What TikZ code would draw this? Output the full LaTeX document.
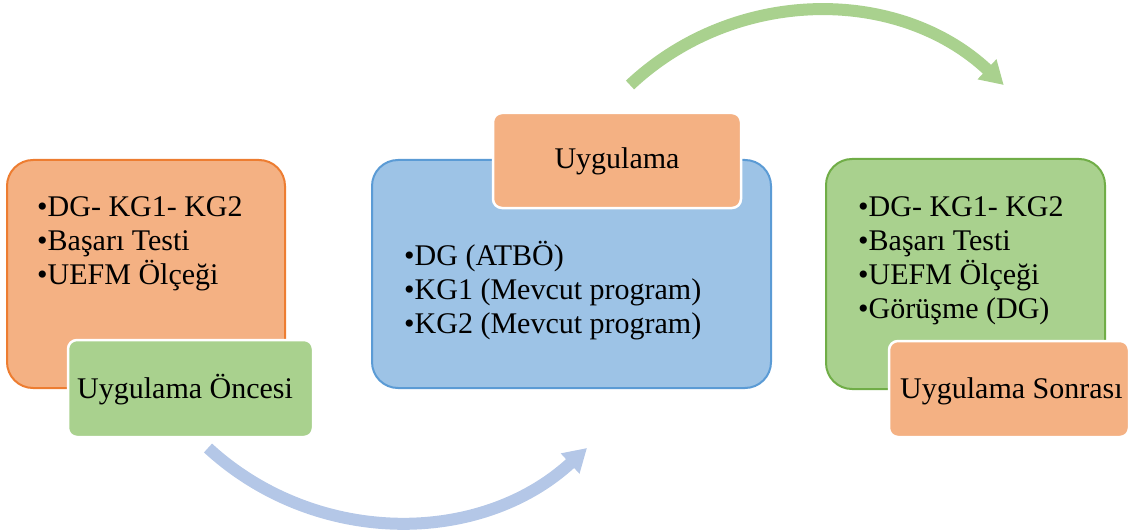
\documentclass[tikz,border=0pt]{standalone}
\usepackage{fontspec}
\setmainfont{Liberation Serif}
\usetikzlibrary{arrows.meta}

\definecolor{orangefill}{HTML}{F4B183}
\definecolor{orangeline}{HTML}{ED7D31}
\definecolor{greenfill}{HTML}{A9D18E}
\definecolor{greenline}{HTML}{70AD47}
\definecolor{bluefill}{HTML}{9DC3E6}
\definecolor{blueline}{HTML}{5B9BD5}
\definecolor{bluearrow}{HTML}{B4C7E7}

\tikzset{
  panel/.style={draw, line width=2pt, rounded corners=26pt, inner sep=0pt},
  tag/.style={draw=white, line width=2.5pt, rounded corners=9pt, inner sep=0pt},
  item/.style={anchor=base west, inner sep=0pt, font=\fontsize{30}{34}\selectfont},
  tagtext/.style={inner sep=0pt, font=\fontsize{30}{34}\selectfont},
  flow/.style={line width=12pt, -{Triangle[width=26pt,length=23pt]}},
}

\begin{document}
\begin{tikzpicture}[x=1pt,y=1pt]
\useasboundingbox (0,0) rectangle (1130,-532);

% before the application
\node[panel, fill=orangefill, draw=orangeline, minimum width=278pt, minimum height=228pt] (pre) at (146,-274) {};
\node[item] (pre1) at (37,-216) {•DG- KG1- KG2};
\node[item] (pre2) at (37,-250) {•Başarı Testi};
\node[item] (pre3) at (37,-284) {•UEFM Ölçeği};
\node[tag, fill=greenfill, minimum width=245pt, minimum height=97pt] (pretag) at (190.5,-388.5) {};
\node[tagtext, anchor=base west] (pretxt) at (77,-398) {Uygulama Öncesi};

% the application
\node[panel, fill=bluefill, draw=blueline, minimum width=399pt, minimum height=228pt] (mid) at (571.5,-274) {};
\node[tag, fill=orangefill, minimum width=248pt, minimum height=95pt] (midtag) at (617,-160.5) {};
\node[tagtext, anchor=base] (midtxt) at (617,-168) {Uygulama};
\node[item] (mid1) at (404,-265) {•DG (ATBÖ)};
\node[item] (mid2) at (404,-299) {•KG1 (Mevcut program)};
\node[item] (mid3) at (404,-333) {•KG2 (Mevcut program)};

% after the application
\node[panel, fill=greenfill, draw=greenline, minimum width=279pt, minimum height=230pt] (post) at (965.5,-274) {};
\node[item] (post1) at (858,-216) {•DG- KG1- KG2};
\node[item] (post2) at (858,-250) {•Başarı Testi};
\node[item] (post3) at (858,-284) {•UEFM Ölçeği};
\node[item] (post4) at (858,-318) {•Görüşme (DG)};
\node[tag, fill=orangefill, minimum width=240pt, minimum height=96pt] (posttag) at (1009,-389) {};
\node[tagtext, anchor=base west] (posttxt) at (900,-398) {Uygulama Sonrası};

% curved flow arrows
\coordinate (lowstart) at (208,-448);
\coordinate (topstart) at (630,-85);
\draw[flow, bluearrow] (lowstart) arc[start angle=227.4, end angle=312.6, radius=280];
\draw[flow, greenfill] (topstart) arc[start angle=133.2, end angle=46.8, radius=273];
\end{tikzpicture}
\end{document}
